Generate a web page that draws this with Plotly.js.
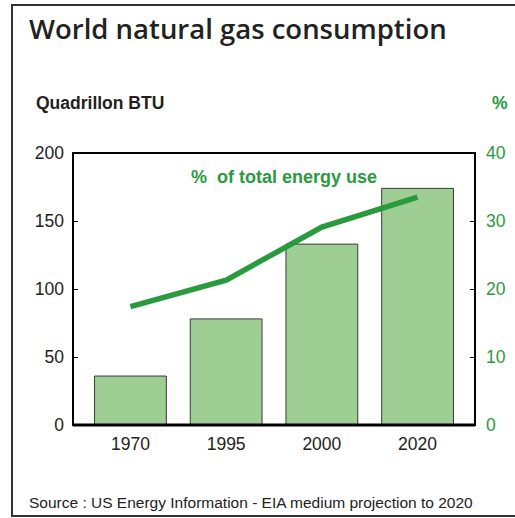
<!DOCTYPE html>
<html>
<head>
<meta charset="utf-8">
<script src="https://cdn.plot.ly/plotly-3.0.1.min.js"></script>
<style>html,body{margin:0;padding:0;background:#fff;}#chart{width:515px;height:518px;}</style>
</head>
<body>
<div id="chart"></div>
<script>
const years = ['1970', '1995', '2000', '2020'];
const gasBTU = [36, 78, 133, 174];
const pctShare = [17.4, 21.3, 29.1, 33.5];
const leftTicks = [0, 50, 100, 150, 200];
const rightTicks = [0, 10, 20, 30, 40];

const green = '#2a9a3f';
const W = 515, H = 518, L = 73, R = 40, T = 153, B = 93;
const pw = W - L - R, ph = H - T - B;
const px = x => (x - L) / pw;
const py = y => (H - B - y) / ph;

const traces = [
  {
    type: 'bar', x: years, y: gasBTU, width: 0.75,
    marker: {color: '#9fce95', line: {color: '#3a3a3a', width: 1}},
    hoverinfo: 'skip', showlegend: false
  },
  {
    type: 'scatter', mode: 'lines', x: years, y: pctShare, yaxis: 'y2',
    line: {color: green, width: 5.5},
    hoverinfo: 'skip', showlegend: false
  }
];

const font = 'Liberation Sans, Arial, sans-serif';
const layout = {
  width: W, height: H,
  margin: {l: L, r: R, t: T, b: B},
  paper_bgcolor: '#fff', plot_bgcolor: '#fff',
  font: {family: font, size: 17.5, color: '#222'},
  bargap: 0,
  xaxis: {
    type: 'category', range: [-0.6, 3.6], showgrid: false, zeroline: false,
    showline: false, ticks: '', tickfont: {size: 17.5, color: '#222'}, ticklabelstandoff: 6,
    fixedrange: true
  },
  yaxis: {
    range: [0, 200], tickvals: leftTicks, showgrid: false, zeroline: false,
    showline: false, ticks: 'inside', ticklen: 5, tickwidth: 1, tickcolor: '#000',
    tickfont: {size: 17.5, color: '#222'}, ticklabelstandoff: 8, fixedrange: true
  },
  yaxis2: {
    range: [0, 40], tickvals: rightTicks, overlaying: 'y', side: 'right',
    showgrid: false, zeroline: false, showline: false,
    ticks: 'inside', ticklen: 5, tickwidth: 1, tickcolor: '#000',
    tickfont: {size: 17.5, color: green}, ticklabelstandoff: 10, fixedrange: true
  },
  shapes: [
    {type: 'rect', xref: 'paper', yref: 'paper', x0: px(12), x1: px(530), y0: py(516), y1: py(5),
     line: {color: '#333', width: 2}, layer: 'below'},
    {type: 'rect', xref: 'paper', yref: 'paper', x0: 0, x1: 1, y0: 0, y1: 1,
     line: {color: '#000', width: 2}},
    {type: 'line', xref: 'paper', yref: 'paper', x0: 0, x1: 1, y0: 0, y1: 0,
     line: {color: '#000', width: 3}}
  ],
  annotations: [
    {text: 'World natural gas consumption', xref: 'paper', yref: 'paper', x: px(27), y: py(28),
     xanchor: 'left', yanchor: 'middle', showarrow: false,
     font: {family: 'Open Sans, sans-serif', size: 27.5, color: '#222', weight: 600}},
    {text: '<b>Quadrillon BTU</b>', xref: 'paper', yref: 'paper', x: px(34), y: py(103),
     xanchor: 'left', yanchor: 'middle', showarrow: false,
     font: {family: font, size: 17.5, color: '#222'}},
    {text: '<b>%</b>', xref: 'paper', yref: 'paper', x: px(500), y: py(103),
     xanchor: 'center', yanchor: 'middle', showarrow: false,
     font: {family: font, size: 17.5, color: green}},
    {text: '<b>%  of total energy use</b>', xref: 'paper', yref: 'paper', x: px(189), y: py(177),
     xanchor: 'left', yanchor: 'middle', showarrow: false,
     font: {family: font, size: 18, color: green}},
    {text: 'Source : US Energy Information - EIA medium projection to 2020', xref: 'paper', yref: 'paper',
     x: px(27), y: py(502), xanchor: 'left', yanchor: 'middle', showarrow: false,
     font: {family: font, size: 15.5, color: '#222'}}
  ]
};

Plotly.newPlot('chart', traces, layout, {staticPlot: true, displayModeBar: false});
</script>
</body>
</html>
